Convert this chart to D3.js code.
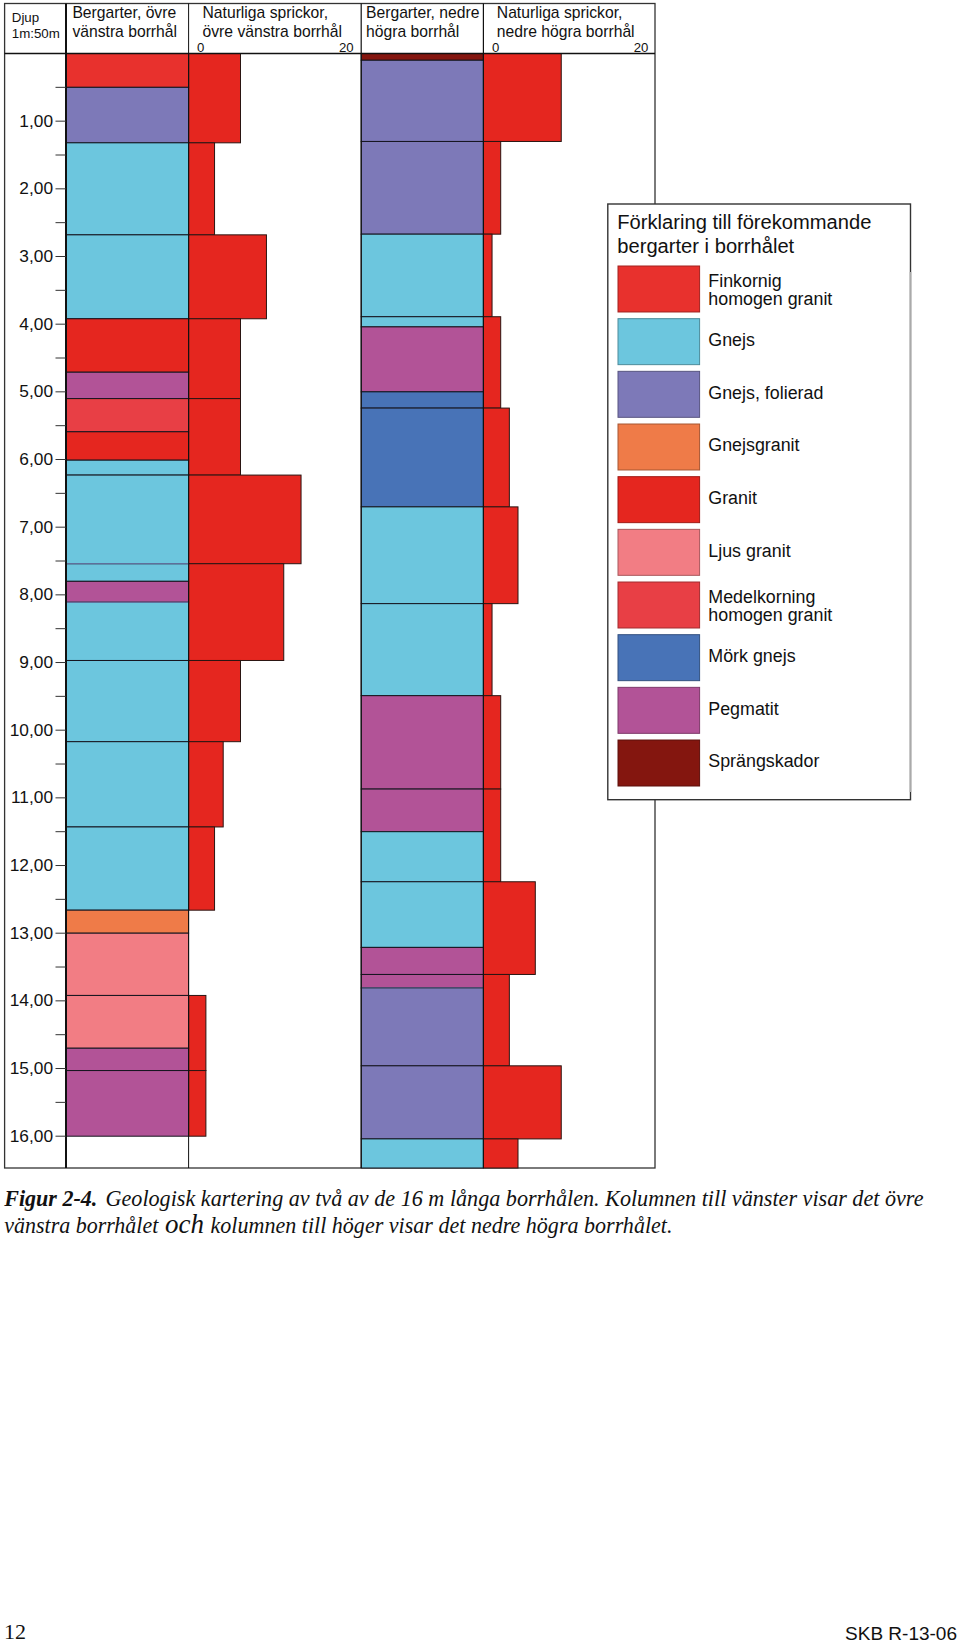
<!DOCTYPE html>
<html>
<head>
<meta charset="utf-8">
<style>
body { margin: 0; background: #fff; }
text { font-family: "Liberation Sans", Arial, sans-serif; fill: #111; }
.serif { font-family: "Liberation Serif", "Times New Roman", serif; }
</style>
<script src="https://cdn.jsdelivr.net/npm/d3@7/dist/d3.min.js"></script>
</head>
<body>
<script>
// rock types and their legend colours
var rockNames = ["Finkornig homogen granit", "Gnejs", "Gnejs, folierad", "Gnejsgranit", "Granit",
    "Ljus granit", "Medelkorning homogen granit", "Mörk gnejs", "Pegmatit", "Sprängskador"];
var rockColors = ["#e8312d", "#6cc6de", "#7d79b8", "#ef7b48", "#e5261f",
    "#f27d84", "#e83f45", "#4873b7", "#b25397", "#84160f"];
var legendLabels = [["Finkornig", "homogen granit"], ["Gnejs"], ["Gnejs, folierad"], ["Gnejsgranit"], ["Granit"],
    ["Ljus granit"], ["Medelkorning", "homogen granit"], ["Mörk gnejs"], ["Pegmatit"], ["Sprängskador"]];

// upper left borehole: bottom depth of each section and its rock
var leftRockDepths = [0.5, 1.32, 2.68, 3.92, 4.71, 5.10, 5.59, 6.01, 6.23, 7.54, 7.80, 8.11, 8.97, 10.17, 11.43, 12.66, 13.0, 13.92, 14.70, 15.03, 16.0];
var leftRockTypes = ["Finkornig homogen granit", "Gnejs, folierad", "Gnejs", "Gnejs", "Granit", "Pegmatit",
    "Medelkorning homogen granit", "Granit", "Gnejs", "Gnejs", "Gnejs", "Pegmatit", "Gnejs", "Gnejs", "Gnejs", "Gnejs",
    "Gnejsgranit", "Ljus granit", "Ljus granit", "Pegmatit", "Pegmatit"];
var leftFracDepths = [1.32, 2.68, 3.92, 5.10, 6.23, 7.54, 8.97, 10.17, 11.43, 12.66, 13.92, 15.03, 16.0];
var leftFracCounts = [6, 3, 9, 6, 6, 13, 11, 6, 4, 3, 0, 2, 2];
var leftFaintDepths = [7.54, 8.11];

// lower right borehole
var rightRockDepths = [0.10, 1.30, 2.67, 3.89, 4.04, 5.0, 5.24, 6.70, 8.13, 9.49, 10.87, 11.50, 12.24, 13.21, 13.61, 13.81, 14.96, 16.04, 16.47];
var rightRockTypes = ["Sprängskador", "Gnejs, folierad", "Gnejs, folierad", "Gnejs", "Gnejs", "Pegmatit", "Mörk gnejs",
    "Mörk gnejs", "Gnejs", "Gnejs", "Pegmatit", "Pegmatit", "Gnejs", "Gnejs", "Pegmatit", "Pegmatit",
    "Gnejs, folierad", "Gnejs, folierad", "Gnejs"];
var rightFracDepths = [1.30, 2.67, 3.89, 5.24, 6.70, 8.13, 9.49, 10.87, 12.24, 13.61, 14.96, 16.04, 16.47];
var rightFracCounts = [9, 2, 1, 2, 3, 4, 1, 2, 2, 6, 3, 9, 4];
var rightFaintDepths = [13.81];

var depthTicks = d3.range(0.5, 16.5, 0.5);

var svg = d3.select("body").append("svg").attr("width", 960).attr("height", 1644).style("display", "block");

var frame = { left: 4.6, right: 655, top: 3.5, head: 53.5, bottom: 1168 };
var leftRockX = [66, 188.6], rightRockX = [361.2, 483.4];

var depth = d3.scaleLinear().domain([0, 16.47]).range([frame.head, frame.bottom]);
var leftFrac = d3.scaleLinear().domain([0, 20]).range([leftRockX[1], leftRockX[1] + 173]);
var rightFrac = d3.scaleLinear().domain([0, 20]).range([rightRockX[1], rightRockX[1] + 173]);
var rockColor = d3.scaleOrdinal().domain(rockNames).range(rockColors);

// turn bottom depths into sections
function sections(bottoms, values) {
    return bottoms.map(function(b, i) {
        return { top: i ? bottoms[i - 1] : 0, bottom: b, value: values[i] };
    });
}

function drawRock(bottoms, types, xs, faint) {
    svg.append("g").selectAll("rect").data(sections(bottoms, types)).enter().append("rect")
        .attr("x", xs[0]).attr("width", xs[1] - xs[0])
        .attr("y", function(d) { return depth(d.top); })
        .attr("height", function(d) { return depth(d.bottom) - depth(d.top); })
        .attr("fill", function(d) { return rockColor(d.value); })
        .attr("stroke", "#15151f").attr("stroke-width", 1);
    // a few boundaries are printed much paler
    svg.append("g").selectAll("line").data(faint).enter().append("line")
        .attr("x1", xs[0]).attr("x2", xs[1])
        .attr("y1", function(d) { return depth(d); })
        .attr("y2", function(d) { return depth(d); })
        .attr("stroke", "#5f6f9a").attr("stroke-width", 1.2);
}

function drawFrac(bottoms, counts, x) {
    var data = sections(bottoms, counts).filter(function(d) { return d.value > 0; });
    svg.append("g").selectAll("rect").data(data).enter().append("rect")
        .attr("x", x(0))
        .attr("width", function(d) { return x(d.value) - x(0); })
        .attr("y", function(d) { return depth(d.top); })
        .attr("height", function(d) { return depth(d.bottom) - depth(d.top); })
        .attr("fill", "#e5261f").attr("stroke", "#2a1512").attr("stroke-width", 1);
}

// chart frame
svg.append("rect").attr("x", frame.left).attr("y", frame.top)
    .attr("width", frame.right - frame.left).attr("height", frame.bottom - frame.top)
    .attr("fill", "#fff").attr("stroke", "#333").attr("stroke-width", 1.3);

drawFrac(leftFracDepths, leftFracCounts, leftFrac);
drawFrac(rightFracDepths, rightFracCounts, rightFrac);
drawRock(leftRockDepths, leftRockTypes, leftRockX, leftFaintDepths);
drawRock(rightRockDepths, rightRockTypes, rightRockX, rightFaintDepths);

// column lines
[[leftRockX[0], 2, frame.top], [leftRockX[1], 1, frame.top], [rightRockX[0], 1.2, frame.top], [rightRockX[1], 1.2, frame.top]].forEach(function(c) {
    svg.append("line").attr("x1", c[0]).attr("x2", c[0]).attr("y1", c[2]).attr("y2", frame.bottom)
        .attr("stroke", "#111").attr("stroke-width", c[1]);
});
svg.append("line").attr("x1", frame.left).attr("x2", frame.right).attr("y1", frame.head).attr("y2", frame.head)
    .attr("stroke", "#111").attr("stroke-width", 1.5);

// depth axis
var axis = d3.axisLeft(depth).tickValues(depthTicks).tickSize(10.5).tickPadding(2.5).offset(0)
    .tickFormat(function(d) { return d % 1 === 0 ? d3.format(".2f")(d).replace(".", ",") : ""; });
var axisG = svg.append("g").attr("transform", "translate(" + leftRockX[0] + ",0)").call(axis);
axisG.select(".domain").remove();
axisG.selectAll("line").attr("stroke", "#333").attr("stroke-width", 1);
axisG.selectAll("text").attr("font-family", null).style("font-size", "17.3px");

// header
var headers = [
    { x: 11.8, size: 13.3, first: 21.5, second: 37.7, lines: ["Djup", "1m:50m"] },
    { x: 72.4, size: 15.7, first: 18.3, second: 36.8, lines: ["Bergarter, övre", "vänstra borrhål"] },
    { x: 202.5, size: 15.7, first: 18.3, second: 36.8, lines: ["Naturliga sprickor,", "övre vänstra borrhål"] },
    { x: 366, size: 15.7, first: 18.3, second: 36.8, lines: ["Bergarter, nedre", "högra borrhål"] },
    { x: 496.8, size: 15.7, first: 18.3, second: 36.8, lines: ["Naturliga sprickor,", "nedre högra borrhål"] }
];
headers.forEach(function(h) {
    h.lines.forEach(function(t, i) {
        svg.append("text").attr("x", h.x).attr("y", i ? h.second : h.first).style("font-size", h.size + "px").text(t);
    });
});
[leftFrac, rightFrac].forEach(function(x) {
    svg.append("text").attr("x", x(0) + 8.5).attr("y", 51.5).style("font-size", "13.2px").text("0");
    svg.append("text").attr("x", x(20) - 8).attr("y", 51.5).attr("text-anchor", "end").style("font-size", "13.2px").text("20");
});

// legend
var legend = svg.append("g");
legend.append("rect").attr("x", 607.8).attr("y", 204).attr("width", 302.7).attr("height", 595.7)
    .attr("fill", "#fff").attr("stroke", "#333").attr("stroke-width", 1.4);
legend.append("line").attr("x1", 910.5).attr("x2", 910.5).attr("y1", 272).attr("y2", 792)
    .attr("stroke", "#aaa").attr("stroke-width", 1.6);
legend.append("text").attr("x", 617.3).attr("y", 229.3).style("font-size", "20.15px").text("Förklaring till förekommande");
legend.append("text").attr("x", 617.3).attr("y", 253.3).style("font-size", "20.15px").text("bergarter i borrhålet");

var legendY = d3.scaleBand().domain(rockNames).range([266, 786]).paddingInner(0.127).paddingOuter(0);
var items = legend.selectAll("g.item").data(rockNames).enter().append("g").attr("class", "item")
    .attr("transform", function(d) { return "translate(0," + legendY(d) + ")"; });
items.append("rect").attr("x", 618).attr("width", 81.6).attr("height", legendY.bandwidth())
    .attr("fill", function(d) { return rockColor(d); })
    .attr("stroke", function(d) { return d3.color(rockColor(d)).darker(1); }).attr("stroke-width", 1);
items.each(function(d, i) {
    var lines = legendLabels[i];
    d3.select(this).selectAll("text").data(lines).enter().append("text")
        .attr("x", 708.3)
        .attr("y", function(t, j) { return lines.length === 2 ? 20.9 + j * 17.6 : 27.2; })
        .style("font-size", "17.85px")
        .text(function(t) { return t; });
});

// caption
var cap = svg.append("g").attr("class", "caption");
cap.append("text").attr("class", "serif").attr("x", 4.3).attr("y", 1206).attr("textLength", 93).attr("lengthAdjust", "spacingAndGlyphs")
    .style("font-size", "22.5px").style("font-weight", "bold").style("font-style", "italic").text("Figur 2-4.");
cap.append("text").attr("class", "serif").attr("x", 105.5).attr("y", 1206).attr("textLength", 818).attr("lengthAdjust", "spacingAndGlyphs")
    .style("font-size", "22.5px").style("font-style", "italic").text("Geologisk kartering av två av de 16 m långa borrhålen. Kolumnen till vänster visar det övre");
cap.append("text").attr("class", "serif").attr("x", 4.3).attr("y", 1232.7).attr("textLength", 154).attr("lengthAdjust", "spacingAndGlyphs")
    .style("font-size", "22.5px").style("font-style", "italic").text("vänstra borrhålet");
cap.append("text").attr("class", "serif").attr("x", 165).attr("y", 1232.7)
    .style("font-size", "27px").style("font-style", "italic").text("och");
cap.append("text").attr("class", "serif").attr("x", 210.5).attr("y", 1232.7).attr("textLength", 462).attr("lengthAdjust", "spacingAndGlyphs")
    .style("font-size", "22.5px").style("font-style", "italic").text("kolumnen till höger visar det nedre högra borrhålet.");

// page footer
svg.append("text").attr("class", "serif").attr("x", 4).attr("y", 1639.4).attr("textLength", 22).attr("lengthAdjust", "spacingAndGlyphs")
    .style("font-size", "21px").text("12");
svg.append("text").attr("x", 957).attr("y", 1639.8).attr("text-anchor", "end").style("font-size", "19px").text("SKB R-13-06");
</script>
</body>
</html>
